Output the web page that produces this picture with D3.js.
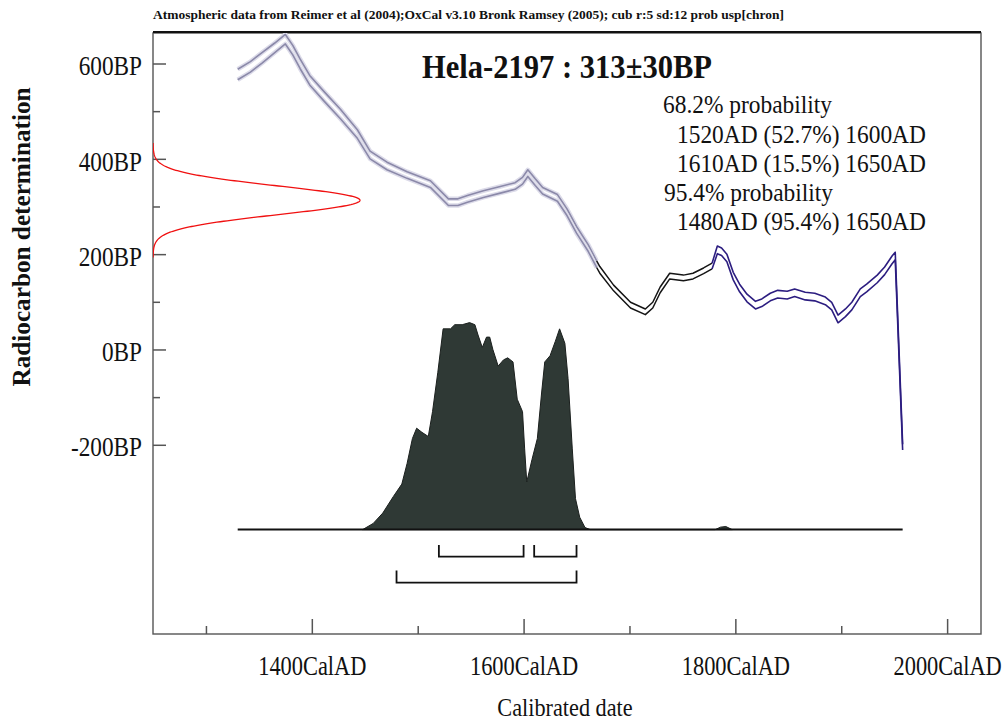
<!DOCTYPE html>
<html>
<head>
<meta charset="utf-8">
<script src="https://cdn.jsdelivr.net/npm/d3@7"></script>
<style>
  body { margin: 0; background: #fff; }
  svg { display: block; }
</style>
</head>
<body>
<svg id="chart" width="1007" height="720"></svg>
<script>
// ---- Calibration curve (IntCal04 section): calendar year, radiocarbon age, 1-sigma ----
const calYear = [1330,1342,1353,1365,1375,1382,1389,1398,1412,1427,
                 1443,1455,1471,1490,1512,1529,1538,1547,1562,1578,
                 1592,1599,1604,1611,1618,1632,1641,1650,1661,1669,
                 1672,1685,1701,1715,1722,1729,1738,1751,1760,1770,
                 1778,1783,1787,1792,1798,1804,1811,1819,1825,1833,
                 1840,1849,1856,1866,1875,1885,1891,1897,1904,1910,
                 1918,1924,1934,1941,1948,1951,1958];
const calBP   = [577,593,612,633,651,628,599,565,530,494,
                 452,408,385,366,347,309,309,316,326,335,
                 343,354,370,351,333,318,288,251,213,179,
                 167,129,93,79,93,125,154,150,154,165,
                 175,209,205,192,154,129,108,93,98,110,
                 116,114,119,112,110,102,91,64,77,91,
                 119,129,148,165,188,196,-205];
const calSigma = [11,11,11,10,10,10,10,10,10,10,
                  9,8,8,7,7,7,7,7,7,7,
                  7,7,7,7,7,7,7,7,7,7,
                  7,6,6,6,6,6,6,6,6,6,
                  6,8,8,8,8,8,8,8,8,8,
                  8,8,8,8,8,8,8,8,8,8,
                  8,8,8,8,8,8,6];
// years where the curve drawing changes colour
const segmentStart = [1330, 1669, 1778];

// ---- Radiocarbon measurement ----
const sampleName = "Hela-2197";
const rdMean = 313;
const rdSd = 30;

// ---- Calibrated probability distribution (relative) ----
const distYear = [1448,1458,1467,1477,1485,1490,1495,1499,1504,1510,
                  1514,1519,1524,1531,1535,1542,1549,1554,1557,1561,
                  1565,1568,1571,1576,1581,1585,1590,1594,1599,1601,
                  1603,1608,1613,1617,1620,1625,1630,1634,1639,1642,
                  1646,1649,1653,1658,1663,1781,1786,1791,1797];
const distProb = [0,0.03,0.08,0.16,0.22,0.32,0.44,0.49,0.47,0.45,
                  0.57,0.76,0.97,0.97,0.99,0.99,1.0,0.99,0.94,0.88,
                  0.93,0.93,0.87,0.79,0.82,0.83,0.81,0.63,0.57,0.39,
                  0.23,0.34,0.44,0.66,0.81,0.84,0.91,0.97,0.90,0.73,
                  0.39,0.15,0.06,0.01,0,0,0.012,0.015,0];

// ---- Calibrated ranges ----
const range68 = [[1520, 1600], [1610, 1650]];
const range95 = [[1480, 1650]];
const summaryLines = [
  "68.2% probability",
  "1520AD (52.7%) 1600AD",
  "1610AD (15.5%) 1650AD",
  "95.4% probability",
  "1480AD (95.4%) 1650AD"
];

// ---- Axis ticks ----
const yMajorTicks = [-200, 0, 200, 400, 600];
const yMinorTicks = [-100, 100, 300, 500];
const xMajorTicks = [1400, 1600, 1800, 2000];
const xMinorTicks = [1300, 1500, 1700, 1900];

const headerText = "Atmospheric data from Reimer et al (2004);OxCal v3.10 Bronk Ramsey (2005); cub r:5 sd:12 prob usp[chron]";

// ------------------------------------------------------------------
const SERIF = "'Liberation Serif', 'Times New Roman', Times, serif";
const svg = d3.select("#chart");
const frame = { left: 153, right: 981, top: 33, bottom: 634 };

const x = d3.scaleLinear().domain([1250, 2032]).range([frame.left, frame.right]);
const y = d3.scaleLinear().domain([-597, 664]).range([frame.bottom, frame.top]);

// squeeze text horizontally to a Times-like condensed set
function condense(sel, factor) {
  sel.each(function () {
    const n = this.getComputedTextLength();
    this.setAttribute("textLength", (n * factor).toFixed(1));
    this.setAttribute("lengthAdjust", "spacingAndGlyphs");
  });
}

svg.append("clipPath").attr("id", "plotClip")
  .append("rect")
  .attr("x", frame.left).attr("y", frame.top)
  .attr("width", frame.right - frame.left).attr("height", frame.bottom - frame.top);

// frame
svg.append("rect")
  .attr("x", frame.left).attr("y", frame.top)
  .attr("width", frame.right - frame.left).attr("height", frame.bottom - frame.top)
  .attr("fill", "none").attr("stroke", "#555").attr("stroke-width", 1.4);
svg.append("line")
  .attr("x1", frame.left).attr("x2", frame.right)
  .attr("y1", frame.top - 1).attr("y2", frame.top - 1)
  .attr("stroke", "#111").attr("stroke-width", 2);

// y axis
function styleAxis(g) {
  g.select(".domain").remove();
  g.selectAll(".tick line").attr("stroke", "#555").attr("stroke-width", 1.5);
  g.selectAll(".tick text")
    .attr("font-family", SERIF).attr("font-size", 28).attr("fill", "#111");
}
const gyMaj = svg.append("g").attr("transform", `translate(${frame.left},0)`)
  .call(d3.axisLeft(y).tickValues(yMajorTicks).tickSizeInner(-13).tickSizeOuter(0)
    .tickPadding(11).tickFormat(d => d + "BP"));
styleAxis(gyMaj);
gyMaj.selectAll(".tick text").attr("dy", "0.4em");
condense(gyMaj.selectAll(".tick text"), 0.83);

const gyMin = svg.append("g").attr("transform", `translate(${frame.left},0)`)
  .call(d3.axisLeft(y).tickValues(yMinorTicks).tickSizeInner(-7).tickSizeOuter(0).tickFormat(""));
styleAxis(gyMin);

// x axis (labels narrowed with a horizontal scale about each tick)
const gxMaj = svg.append("g").attr("transform", `translate(0,${frame.bottom})`)
  .call(d3.axisBottom(x).tickValues(xMajorTicks).tickSizeInner(-15).tickSizeOuter(0)
    .tickPadding(22).tickFormat(d => d + "CalAD"));
styleAxis(gxMaj);
gxMaj.selectAll(".tick text").attr("font-size", 27).attr("transform", "scale(0.83,1)");

const gxMin = svg.append("g").attr("transform", `translate(0,${frame.bottom})`)
  .call(d3.axisBottom(x).tickValues(xMinorTicks).tickSizeInner(-8).tickSizeOuter(0).tickFormat(""));
styleAxis(gxMin);

// axis titles
const xTitle = svg.append("text")
  .attr("x", 565).attr("y", 716).attr("text-anchor", "middle")
  .attr("font-family", SERIF).attr("font-size", 25).attr("fill", "#111")
  .text("Calibrated date");
condense(xTitle, 0.89);

const yTitle = svg.append("text")
  .attr("transform", "translate(30,237) rotate(-90)")
  .attr("text-anchor", "middle")
  .attr("font-family", SERIF).attr("font-size", 26).attr("font-weight", "bold").attr("fill", "#111")
  .text("Radiocarbon determination");
condense(yTitle, 0.97);

// header line
const header = svg.append("text")
  .attr("x", 153).attr("y", 19)
  .attr("font-family", SERIF).attr("font-size", 13).attr("font-weight", "bold").attr("fill", "#111")
  .text(headerText);
header.attr("textLength", 631).attr("lengthAdjust", "spacingAndGlyphs");

// ---- calibration curve ----
const plot = svg.append("g").attr("clip-path", "url(#plotClip)");
const calPts = calYear.map((yr, i) => ({ yr, bp: calBP[i], s: calSigma[i] }));
const segStyles = [
  { halo: "#dcdbe9", core: "#8b89a9", width: 1.6 },
  { halo: null, core: "#151515", width: 1.5 },
  { halo: null, core: "#2c1d80", width: 1.6 }
];
segmentStart.forEach((start, k) => {
  const end = k + 1 < segmentStart.length ? segmentStart[k + 1] : Infinity;
  const pts = calPts.filter(p => p.yr >= start && p.yr <= end);
  const st = segStyles[k];
  [1, -1].forEach(sign => {
    const line = d3.line().x(p => x(p.yr)).y(p => y(p.bp + sign * p.s));
    if (st.halo) {
      plot.append("path").datum(pts).attr("d", line)
        .attr("fill", "none").attr("stroke", st.halo).attr("stroke-width", 4.5)
        .attr("stroke-linejoin", "round");
    }
    plot.append("path").datum(pts).attr("d", line)
      .attr("fill", "none").attr("stroke", st.core).attr("stroke-width", st.width)
      .attr("stroke-linejoin", "round");
  });
});

// ---- radiocarbon date (normal curve on the y axis) ----
const xr = d3.scaleLinear().domain([0, 1]).range([frame.left, 360]);
const rdBP = d3.range(rdMean - 4 * rdSd, rdMean + 4 * rdSd + 0.5, 1);
plot.append("path")
  .datum(rdBP)
  .attr("d", d3.line()
    .x(b => xr(Math.exp(-0.5 * Math.pow((b - rdMean) / rdSd, 2))))
    .y(b => y(b)))
  .attr("fill", "none").attr("stroke", "#f01010").attr("stroke-width", 1.3);

// ---- calibrated distribution ----
const distBaseBP = -378;
const baseY = y(distBaseBP);
const p = d3.scaleLinear().domain([0, 1]).range([baseY, baseY - 207]);
const distPts = distYear.map((yr, i) => ({ yr, pr: distProb[i] }));
plot.append("path").datum(distPts)
  .attr("d", d3.area().x(d => x(d.yr)).y0(baseY).y1(d => p(d.pr)))
  .attr("fill", "#2f3935").attr("stroke", "#1b201e").attr("stroke-width", 1);

plot.append("line")
  .attr("x1", x(calYear[0])).attr("x2", x(calYear[calYear.length - 1]))
  .attr("y1", baseY).attr("y2", baseY)
  .attr("stroke", "#111").attr("stroke-width", 2);

// ---- range brackets ----
function bracket(ranges, yLine, h) {
  ranges.forEach(r => {
    svg.append("path")
      .attr("d", `M${x(r[0])},${yLine - h}V${yLine}H${x(r[1])}V${yLine - h}`)
      .attr("fill", "none").attr("stroke", "#111").attr("stroke-width", 1.8);
  });
}
bracket(range68, baseY + 27, 11.5);
bracket(range95, baseY + 53, 12);

// ---- title and summary ----
const title = svg.append("text")
  .attr("x", 422).attr("y", 78)
  .attr("font-family", SERIF).attr("font-size", 34).attr("font-weight", "bold").attr("fill", "#111")
  .text(`${sampleName} : ${rdMean}\u00B1${rdSd}BP`);
title.attr("textLength", 290).attr("lengthAdjust", "spacingAndGlyphs");

const lineX = [663, 677, 677, 664, 677];
const lineY = [113, 142.5, 171.5, 201, 230];
summaryLines.forEach((t, i) => {
  const tx = svg.append("text")
    .attr("x", lineX[i]).attr("y", lineY[i])
    .attr("font-family", SERIF).attr("font-size", 25).attr("fill", "#111")
    .text(t);
  condense(tx, 0.936);
});
</script>
</body>
</html>
